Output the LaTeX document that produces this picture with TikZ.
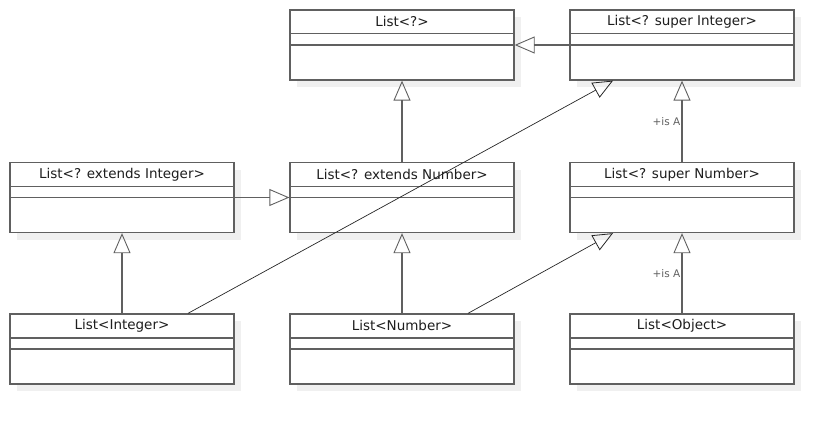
\documentclass[tikz,border=0pt]{standalone}
\usepackage{fontspec}
\setmainfont{DejaVu Sans}
\usetikzlibrary{arrows.meta, shadows, calc}
\definecolor{boxgray}{HTML}{606060}
\definecolor{shadowgray}{HTML}{F0F0F0}
\definecolor{textdark}{HTML}{1E1E1E}

\begin{document}
\begin{tikzpicture}[x=1pt, y=-1pt,
  umlclass/.style={rectangle, draw=boxgray, line width=1.3pt, fill=white, minimum width=224pt, minimum height=70pt, inner sep=0pt, drop shadow={shadow xshift=7pt, shadow yshift=-7pt, fill=shadowgray, opacity=1}},
  classname/.style={font=\fontsize{13.5}{16}\selectfont, text=textdark, inner sep=0pt},
  divider/.style={draw=boxgray, line width=1.3pt},
  inherit/.style={-{Triangle[open, length=20pt, width=17pt, line width=0.9pt]}, draw=boxgray, line width=1.3pt},
  inheritthin/.style={-{Triangle[open, length=20pt, width=17pt, line width=0.8pt]}, draw=black!85, line width=0.7pt},
  isa/.style={font=\fontsize{10.5}{12}\selectfont, text=boxgray, inner sep=1pt, left}
]
  \useasboundingbox (0,0) rectangle (834,425);

  % class boxes
  \foreach \n/\x/\y/\t in {wild/402/45/List<?>, superint/682/45/List<? super Integer>,
      extint/122/197.5/List<? extends Integer>, extnum/402/197.5/List<? extends Number>, supernum/682/197.5/List<? super Number>,
      integer/122/349/List<Integer>, number/402/349/List<Number>, object/682/349/List<Object>} {
    \node[umlclass] (\n) at (\x,\y) {};
    \draw[divider] ($(\n.north west)+(0,24.5)$) -- ($(\n.north east)+(0,24.5)$);
    \draw[divider] (\n.west) -- (\n.east);
    \node[classname] (\n-name) at ($(\n.north)+(0,12.5)$) {\t};
  }

  % generalisations
  \draw[inherit] (superint.west) -- (wild.east);
  \draw[inherit] (extnum.north) -- (wild.south);
  \draw[inherit] (supernum.north) -- (superint.south) node[isa, pos=0.5] {+is A};
  \draw[inherit] (extint.east) -- (extnum.west);
  \draw[inherit] (integer.north) -- (extint.south);
  \draw[inherit] (number.north) -- (extnum.south);
  \draw[inherit] (object.north) -- (supernum.south) node[isa, pos=0.5] {+is A};

  \draw[inheritthin] ([xshift=66pt]integer.north) -- ([xshift=-69pt]superint.south);
  \draw[inheritthin] ([xshift=66pt]number.north) -- ([xshift=-69pt]supernum.south);
\end{tikzpicture}
\end{document}
